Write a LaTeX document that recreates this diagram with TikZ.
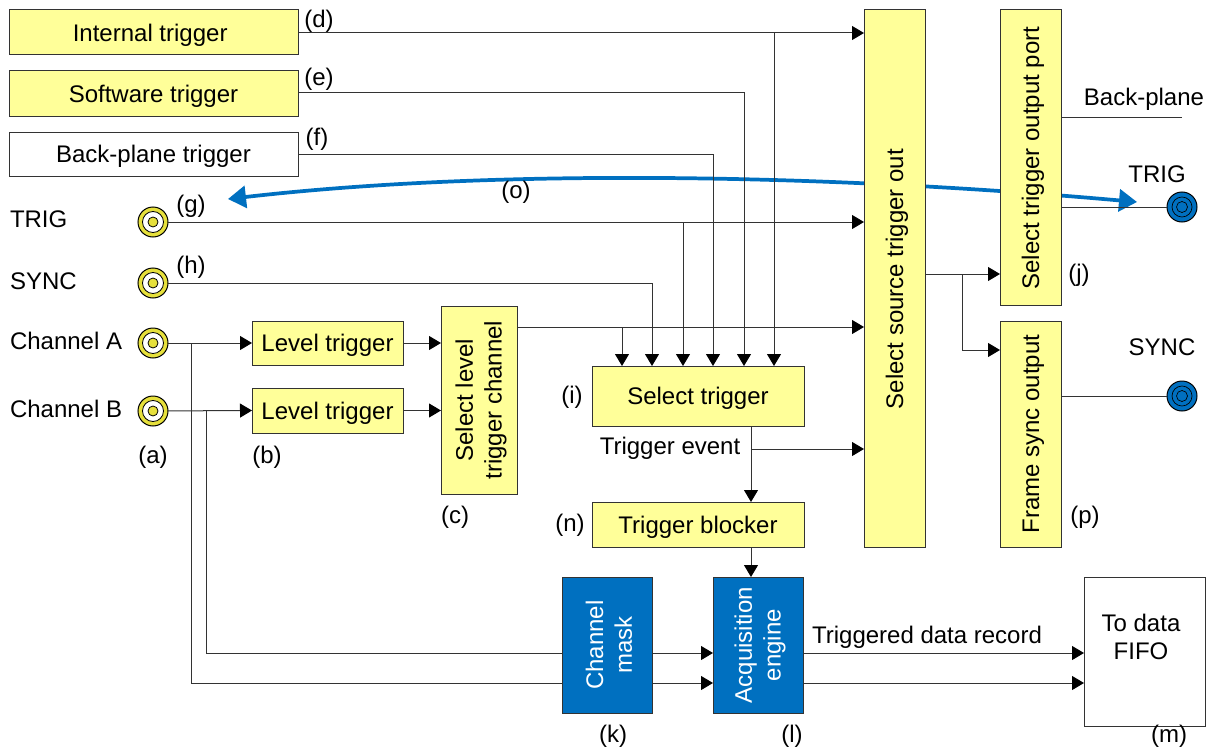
\documentclass[tikz,border=0pt]{standalone}
\usepackage{fontspec}
\setmainfont{Liberation Sans}
\usetikzlibrary{arrows.meta,backgrounds,calc}
\definecolor{boxy}{HTML}{FFFF99}
\definecolor{boxb}{HTML}{0070C0}
\definecolor{ringy}{HTML}{E6E03C}
\tikzset{
  x=0.75pt,y=-0.75pt,
  every node/.style={font=\fontsize{18}{21.5}\selectfont,inner sep=0pt,outer sep=0pt},
  ybox/.style={draw=black!80,line width=0.75pt,fill=boxy,align=center},
  wbox/.style={draw=black!80,line width=0.75pt,fill=white,align=center},
  bbox/.style={draw=black!80,line width=0.75pt,fill=boxb,text=white,align=center},
  oneline/.style={text height=13pt,text depth=0pt},
  wire/.style={draw=black!80,line width=0.75pt},
  arr/.style={wire,-{Triangle[length=9pt,width=10.5pt,color=black]}},
  bluearr/.style={draw=boxb,line width=2.8pt,{Triangle[length=13.5pt,width=16.5pt]}-{Triangle[length=13.5pt,width=16.5pt]}},
  conny/.style={circle,draw=black,line width=0.75pt,fill=ringy,minimum size=22.5pt},
  connb/.style={circle,draw=black,line width=0.75pt,fill=boxb,minimum size=22.5pt},
}
\newcommand{\topfix}{\rule{0pt}{16pt}}
\begin{document}
\begin{tikzpicture}
\useasboundingbox (0,0) rectangle (1210,749);
\node[ybox,oneline,minimum width=216.75pt,minimum height=33.75pt] (int) at (153.5,32.5) {Internal trigger\hspace*{5pt}};
\node[ybox,oneline,minimum width=216.75pt,minimum height=33.75pt] (sw) at (153.5,93.5) {Software trigger};
\node[wbox,oneline,minimum width=216.75pt,minimum height=33pt] (bp) at (153.5,154) {Back-plane trigger};
\node[ybox,oneline,minimum width=113.25pt,minimum height=33pt] (lt1) at (327.5,343) {Level trigger};
\node[ybox,oneline,minimum width=113.25pt,minimum height=33.75pt] (lt2) at (327.5,410.5) {Level trigger};
\node[ybox,minimum width=141pt,minimum height=57pt,rotate=90] (sl) at (479,400) {\topfix Select level\\trigger channel};
\node[ybox,oneline,minimum width=159pt,minimum height=45pt] (st) at (698,396) {Select trigger};
\node[ybox,oneline,minimum width=159pt,minimum height=33.75pt] (tb) at (698,524.5) {Trigger blocker};
\node[ybox,oneline,minimum width=402.75pt,minimum height=45.75pt,rotate=90] (src) at (894.5,278.5) {Select source trigger out\hspace*{1pt}};
\node[ybox,oneline,minimum width=221.25pt,minimum height=45.75pt,rotate=90] (port) at (1030.5,157.5) {Select trigger output port\hspace*{1pt}};
\node[ybox,oneline,minimum width=169.5pt,minimum height=45.75pt,rotate=90] (fs) at (1030.5,434) {Frame sync output};
\node[bbox,minimum width=102pt,minimum height=67.5pt,rotate=90] (cm) at (607,645) {\topfix Channel\\mask};
\node[bbox,minimum width=102pt,minimum height=67.5pt,rotate=90] (ae) at (758,645) {\topfix Acquisition\\engine};
\node[wbox,minimum width=90.75pt,minimum height=111.75pt] (fifo) at (1144.5,651.5) {};
\node[anchor=center,align=center] (fifot) at (1141,637) {To data\\FIFO};
\foreach \n/\y in {ca/222,cb/283,cc/343,cd/411}{
  \node[conny] (\n) at (153,\y) {};
  \node[circle,draw=black,line width=0.6pt,fill=white,minimum size=15.75pt] (\n w) at (153,\y) {};
  \node[circle,draw=black,line width=0.6pt,fill=ringy,minimum size=7.5pt] (\n i) at (153,\y) {};
}
\foreach \n/\y in {oa/207,ob/396}{
  \node[connb] (\n) at (1182,\y) {};
  \node[circle,draw=black,line width=0.5pt,fill=boxb,minimum size=15pt] (\n w) at (1182,\y) {};
  \node[circle,draw=black,line width=0.5pt,fill=boxb,minimum size=8.25pt] (\n i) at (1182,\y) {};
}
\coordinate (jd) at (774,33);
\coordinate (je) at (744,93);
\coordinate (jf) at (713,154);
\coordinate (jg) at (683,222);
\coordinate (jh) at (652,283);
\coordinate (jl) at (622,327);
\coordinate (ja) at (191,343);
\coordinate (jb) at (206,411);
\coordinate (ya) at (713,683);
\coordinate (yb) at (713,653);
\coordinate (jt) at (751,449);
\coordinate (js) at (962,274);
\coordinate (jy) at (1000,350);
\coordinate (bpe) at (1182,117);
\coordinate (bps) at (1061,117);
\coordinate (po) at (1061,207);
\coordinate (ble) at (228,199);
\coordinate (bre) at (1137,202);
\begin{pgfonlayer}{background}
\draw[bluearr] (ble) .. controls (480,170) and (800,172) .. (bre);
\draw[arr] (ja) |- (ae.north |- ya);
\draw[arr] (jb) |- (ae.north |- yb);
\end{pgfonlayer}
\draw[arr] (int.east |- jd) -- (src.north |- jd);
\draw[arr] (jd) -- (jd |- st.north);
\draw[arr] (sw.east |- je) -| (je |- st.north);
\draw[arr] (bp.east |- jf) -| (jf |- st.north);
\draw[arr] (ca) -- (src.north |- ca);
\draw[arr] (jg) -- (jg |- st.north);
\draw[arr] (cb) -| (jh |- st.north);
\draw[arr] (sl.south |- jl) -- (src.north |- jl);
\draw[arr] (jl) -- (jl |- st.north);
\draw[arr] (cc) -- (lt1.west);
\draw[arr] (cd) -- (lt2.west);
\draw[arr] (lt1.east) -- (sl.north |- lt1.east);
\draw[arr] (lt2.east) -- (sl.north |- lt2.east);
\draw[arr] (jt |- st.south) -- (jt |- tb.north);
\draw[arr] (jt) -- (src.north |- jt);
\draw[arr] (jt |- tb.south) -- (jt |- ae.east);
\draw[arr] (ae.south |- yb) -- (fifo.west |- yb);
\draw[arr] (ae.south |- ya) -- (fifo.west |- ya);
\draw[arr] (src.south |- js) -- (port.north |- js);
\draw[arr] (js) |- (fs.north |- jy);
\draw[wire] (bps) -- (bpe);
\draw[wire] (po) -- (oa);
\draw[wire] (fs.south |- ob) -- (ob);
\node[anchor=west] (l1) at (10,219) {TRIG};
\node[anchor=west] (l2) at (10,281) {SYNC};
\node[anchor=west] (l3) at (10,341) {Channel A};
\node[anchor=west] (l4) at (10,409) {Channel B};
\node (l5) at (1144,99) {Back-plane};
\node (l6) at (1157,174) {TRIG};
\node (l7) at (1162,347) {SYNC};
\node (l8) at (670,448) {Trigger event};
\node (l9) at (927,637) {Triggered data record};
\node (ld) at (319,21) {(d)};
\node (le) at (319,79) {(e)};
\node (lf) at (317,139) {(f)};
\node (lg) at (191,206) {(g)};
\node (lh) at (191,267) {(h)};
\node (lo) at (516,192) {(o)};
\node (li) at (572,397) {(i)};
\node (la) at (153,457) {(a)};
\node (lb) at (267,457) {(b)};
\node (lc) at (455,517) {(c)};
\node (ln) at (570,525) {(n)};
\node (lj) at (1079,275) {(j)};
\node (lp) at (1085,517) {(p)};
\node (lk) at (613,736) {(k)};
\node (ll) at (792,736) {(l)};
\node (lm) at (1169,736) {(m)};
\end{tikzpicture}
\end{document}
